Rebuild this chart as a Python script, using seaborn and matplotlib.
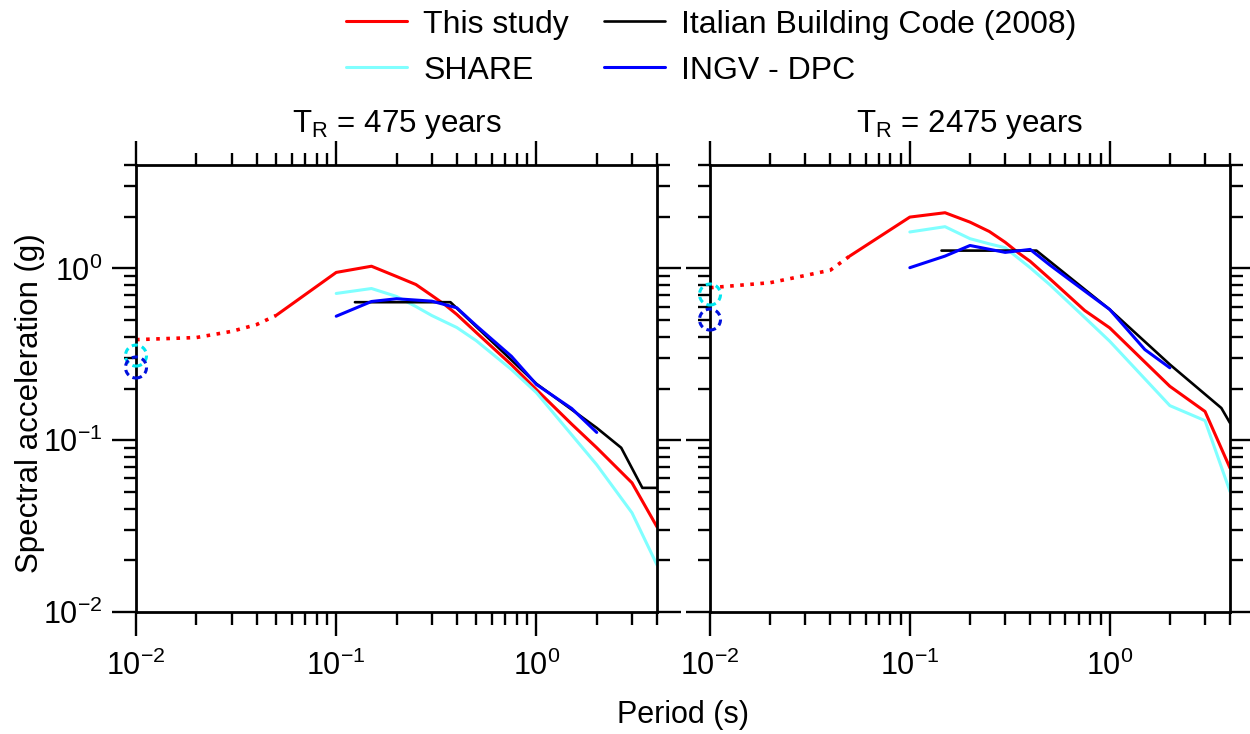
import numpy as np
import seaborn as sns
import matplotlib.pyplot as plt
from matplotlib import transforms
from matplotlib.patches import Circle
from matplotlib.ticker import LogLocator, NullFormatter

# ---- data ----
pga_period = 0.01

# This study: dotted extrapolation from PGA to 0.05 s, then the computed spectrum
dot_periods = [0.01, 0.02, 0.03, 0.04, 0.05]
study_periods = [0.05, 0.1, 0.15, 0.2, 0.25, 0.3, 0.35, 0.4, 0.5, 0.75, 1.0, 1.5, 2.0, 3.0, 4.0]
study_dot_475 = [0.385, 0.396, 0.430, 0.471, 0.532]
study_475 = [0.532, 0.948, 1.03, 0.898, 0.806, 0.696, 0.613, 0.54, 0.424, 0.275, 0.197, 0.124, 0.0904, 0.0565, 0.0313]
study_dot_2475 = [0.772, 0.826, 0.91, 0.977, 1.18]
study_2475 = [1.18, 1.99, 2.11, 1.86, 1.64, 1.42, 1.23, 1.10, 0.874, 0.569, 0.451, 0.285, 0.206, 0.147, 0.0689]

# SHARE
share_periods = [0.1, 0.15, 0.2, 0.25, 0.3, 0.4, 0.5, 0.75, 1.0, 2.0, 3.0, 4.0]
share_475 = [0.715, 0.764, 0.687, 0.600, 0.532, 0.453, 0.380, 0.258, 0.189, 0.072, 0.0378, 0.0188]
share_2475 = [1.63, 1.75, 1.49, 1.39, 1.32, 1.01, 0.807, 0.518, 0.377, 0.159, 0.130, 0.0503]
share_pga_475 = 0.311
share_pga_2475 = 0.705

# Italian Building Code (2008)
ntc_periods_475 = [0.124, 0.372, 1.0, 2.0, 2.65, 3.38, 4.0]
ntc_475 = [0.636, 0.636, 0.213, 0.118, 0.0904, 0.0528, 0.0528]
ntc_periods_2475 = [0.144, 0.430, 1.0, 2.0, 3.62, 4.0]
ntc_2475 = [1.27, 1.27, 0.577, 0.276, 0.154, 0.126]

# INGV - DPC
ingv_periods = [0.1, 0.15, 0.2, 0.3, 0.4, 0.5, 0.75, 1.0, 1.5, 2.0]
ingv_475 = [0.527, 0.642, 0.666, 0.645, 0.590, 0.465, 0.308, 0.211, 0.153, 0.111]
ingv_2475 = [1.01, 1.18, 1.36, 1.24, 1.29, 1.05, 0.739, 0.577, 0.337, 0.264]
ingv_pga_475 = 0.265
ingv_pga_2475 = 0.504

RED = "#FF0000"
CYAN = "#80FFFF"
CYAN_PGA = "#00E6F0"
BLUE = "#0000FF"
BLUE_PGA = "#0010DD"

# ---- style ----
sns.set_style("ticks")
plt.rcParams['font.family'] = ['Liberation Sans', 'DejaVu Sans']
plt.rcParams['mathtext.fontset'] = 'custom'
plt.rcParams['mathtext.rm'] = 'Liberation Sans'
plt.rcParams['mathtext.it'] = 'Liberation Sans:italic'
plt.rcParams['axes.edgecolor'] = 'black'
plt.rcParams['axes.linewidth'] = 2.0
plt.rcParams['text.color'] = 'black'

fig = plt.figure(figsize=(12.5, 7.34), dpi=100)
ax1 = fig.add_axes([0.1088, 0.1662, 0.4168, 0.6090])
ax2 = fig.add_axes([0.568, 0.1662, 0.416, 0.6090])


def pga_circle(ax, value, color):
    # dashed open circle, fixed size on screen, centred on the PGA value
    trans = fig.dpi_scale_trans + transforms.ScaledTranslation(pga_period, value, ax.transData)
    c = Circle((0, 0), radius=0.105, transform=trans, fill=False, edgecolor=color,
               lw=2.2, linestyle=(0, (2.0, 1.4)), clip_on=False, zorder=6)
    ax.add_artist(c)


def draw_panel(ax, study_dot, study, share, ntc_p, ntc, ingv, share_pga, ingv_pga, title):
    kw = dict(ax=ax, sort=False, estimator=None, legend=False)
    sns.lineplot(x=dot_periods, y=study_dot, color=RED, lw=2.6, linestyle=(0, (1.0, 1.8)), **kw)
    sns.lineplot(x=study_periods, y=study, color=RED, lw=2.2, label="This study", **kw)
    sns.lineplot(x=share_periods, y=share, color=CYAN, lw=2.2, label="SHARE", **kw)
    sns.lineplot(x=ntc_p, y=ntc, color="black", lw=1.9, label="Italian Building Code (2008)", **kw)
    sns.lineplot(x=ingv_periods, y=ingv, color=BLUE, lw=2.2, label="INGV - DPC", **kw)

    ax.set_xscale('log')
    ax.set_yscale('log')
    ax.set_xlim(0.01, 4)
    ax.set_ylim(0.01, 4)
    for axis in (ax.xaxis, ax.yaxis):
        axis.set_major_locator(LogLocator(base=10, numticks=10))
        axis.set_minor_locator(LogLocator(base=10, subs=np.arange(2, 10), numticks=20))
        axis.set_minor_formatter(NullFormatter())
    ax.tick_params(which='both', direction='out', top=True, right=True,
                   labeltop=False, labelright=False, width=1.7, colors='black')
    ax.tick_params(which='major', length=17, labelsize=22)
    ax.tick_params(which='minor', length=9)
    ax.tick_params(axis='x', which='major', pad=11)
    ax.tick_params(axis='y', which='major', pad=7)
    ax.set_xlabel('')
    ax.set_ylabel('')
    ax.set_title(title, fontsize=22.5, pad=24)

    pga_circle(ax, share_pga, CYAN_PGA)
    pga_circle(ax, ingv_pga, BLUE_PGA)


draw_panel(ax1, study_dot_475, study_475, share_475, ntc_periods_475, ntc_475, ingv_475,
           share_pga_475, ingv_pga_475, r'T$_\mathregular{R}$ = 475 years')
draw_panel(ax2, study_dot_2475, study_2475, share_2475, ntc_periods_2475, ntc_2475, ingv_2475,
           share_pga_2475, ingv_pga_2475, r'T$_\mathregular{R}$ = 2475 years')
ax2.tick_params(labelleft=False)

fig.text(0.024, 0.451, 'Spectral acceleration (g)', rotation=90, fontsize=22.5,
         ha='center', va='center')
fig.text(0.5464, 0.026, 'Period (s)', fontsize=22, ha='center', va='center')

handles, labels = ax1.get_legend_handles_labels()
order = [labels.index(l) for l in ["This study", "SHARE", "Italian Building Code (2008)", "INGV - DPC"]]
fig.legend([handles[i] for i in order], [labels[i] for i in order], ncol=2,
           loc='upper center', bbox_to_anchor=(0.569, 1.026), frameon=False, fontsize=23,
           handlelength=1.9, handletextpad=0.5, columnspacing=1.1, labelspacing=0.5)

fig.savefig('out.png', dpi=100)
